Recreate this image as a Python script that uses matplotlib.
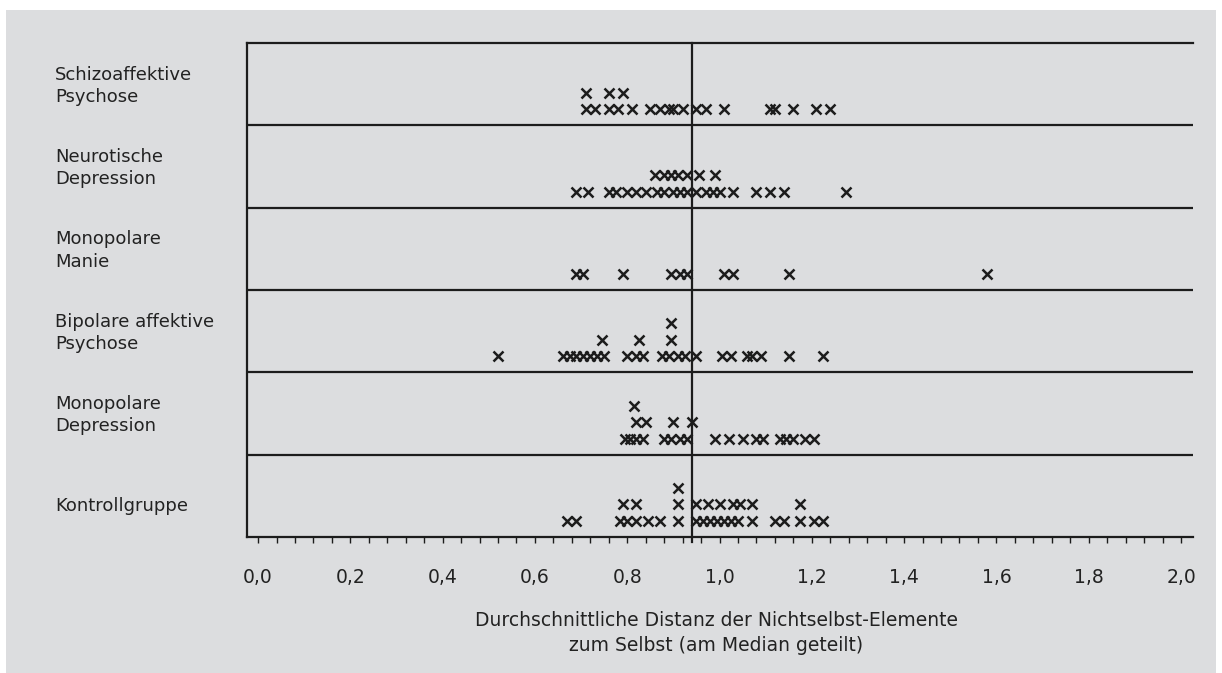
import matplotlib
matplotlib.use("Agg")
import matplotlib.pyplot as plt
import matplotlib.patches as mpatches
import numpy as np

# groups from top to bottom
groups = ["Schizoaffektive\nPsychose", "Neurotische\nDepression", "Monopolare\nManie",
          "Bipolare affektive\nPsychose", "Monopolare\nDepression", "Kontrollgruppe"]

# x values and stack level (0 = bottom of the row) for every cross
schizo_x = [0.71, 0.73, 0.76, 0.78, 0.81, 0.85, 0.87, 0.89, 0.90, 0.92, 0.95, 0.97, 1.01, 1.11, 1.12, 1.16, 1.21, 1.24,
            0.71, 0.76, 0.79]
schizo_lvl = [0] * 18 + [1] * 3

neuro_x = [0.69, 0.715, 0.76, 0.775, 0.80, 0.82, 0.84, 0.865, 0.88, 0.90, 0.915, 0.93, 0.95, 0.97, 0.985, 1.00, 1.03,
           1.08, 1.11, 1.14, 1.275,
           0.86, 0.88, 0.895, 0.91, 0.93, 0.955, 0.99]
neuro_lvl = [0] * 21 + [1] * 7

manie_x = [0.69, 0.705, 0.79, 0.895, 0.915, 0.93, 1.01, 1.03, 1.15, 1.58]
manie_lvl = [0] * 10

bipolar_x = [0.52, 0.66, 0.675, 0.69, 0.705, 0.72, 0.735, 0.75, 0.80, 0.82, 0.835, 0.875, 0.89, 0.91, 0.925, 0.95,
             1.005, 1.025, 1.06, 1.07, 1.09, 1.15, 1.225,
             0.745, 0.825, 0.895,
             0.895]
bipolar_lvl = [0] * 23 + [1] * 3 + [2]

monodep_x = [0.795, 0.805, 0.82, 0.835, 0.88, 0.895, 0.915, 0.93, 0.99, 1.02, 1.05, 1.08, 1.095, 1.13, 1.145, 1.16,
             1.185, 1.205,
             0.82, 0.84, 0.90, 0.94,
             0.815]
monodep_lvl = [0] * 18 + [1] * 4 + [2]

kontroll_x = [0.67, 0.69, 0.785, 0.80, 0.82, 0.845, 0.87, 0.91, 0.95, 0.965, 0.98, 0.995, 1.01, 1.025, 1.04, 1.07,
              1.12, 1.14, 1.175, 1.205, 1.225,
              0.79, 0.82, 0.91, 0.95, 0.975, 1.0, 1.03, 1.045, 1.07, 1.175,
              0.91]
kontroll_lvl = [0] * 21 + [1] * 10 + [2]

all_x = [schizo_x, neuro_x, manie_x, bipolar_x, monodep_x, kontroll_x]
all_lvl = [schizo_lvl, neuro_lvl, manie_lvl, bipolar_lvl, monodep_lvl, kontroll_lvl]

median = 0.94
xticks = np.arange(0, 2.01, 0.2)
xtick_labels = [("%.1f" % t).replace(".", ",") for t in xticks]

W, H = 1222, 673
ink = "#1c1c1c"
plt.rcParams["font.family"] = ["DejaVu Sans"]

fig = plt.figure(figsize=(W / 100, H / 100), dpi=100)
fig.patch.set_facecolor("white")
fig.patches.append(mpatches.Rectangle((6 / W, 0), (1216 - 6) / W, (H - 10) / H, transform=fig.transFigure,
                                      facecolor="#dcdddf", edgecolor="none", zorder=-10))

ax = fig.add_axes([247 / W, (H - 537) / H, (1193 - 247) / W, (537 - 43) / H])
ax.set_facecolor("none")
ax.set_xlim(-0.024, 2.026)
ax.set_ylim(0, 6)

n = len(groups)
for i in range(n):
    base = n - 1 - i
    x = np.array(all_x[i])
    y = base + 0.195 + 0.2 * np.array(all_lvl[i])
    ax.plot(x, y, linestyle="none", marker="x", markersize=7.5, markeredgewidth=1.8, color=ink)
    if i > 0:
        ax.axhline(base + 1, color=ink, linewidth=1.6)
    # row label
    if "\n" in groups[i]:
        ty = base + 0.48
    else:
        ty = base + 0.5 - 10 / 82.3
    ax.text(-0.44, ty, groups[i], transform=ax.transData, ha="left", va="center", fontsize=13,
            color="#222222", linespacing=1.3, clip_on=False)

ax.axvline(median, ymin=-0.01, color=ink, linewidth=1.6, clip_on=False)

ax.spines["right"].set_visible(False)
for side in ["left", "top", "bottom"]:
    ax.spines[side].set_linewidth(1.6)
    ax.spines[side].set_color(ink)

ax.set_yticks([])
ax.set_xticks(xticks)
ax.set_xticklabels(xtick_labels, fontsize=13.5, color="#222222")
ax.set_xticks(np.arange(0.04, 2.0, 0.04), minor=True)
ax.tick_params(axis="x", which="both", direction="out", length=4, width=1, color=ink, pad=18)

fig.text(716 / W, 1 - 633 / H, "Durchschnittliche Distanz der Nichtselbst-Elemente\nzum Selbst (am Median geteilt)",
         ha="center", va="center", fontsize=13.5, color="#222222", linespacing=1.4)

fig.savefig("out.png", dpi=100)
